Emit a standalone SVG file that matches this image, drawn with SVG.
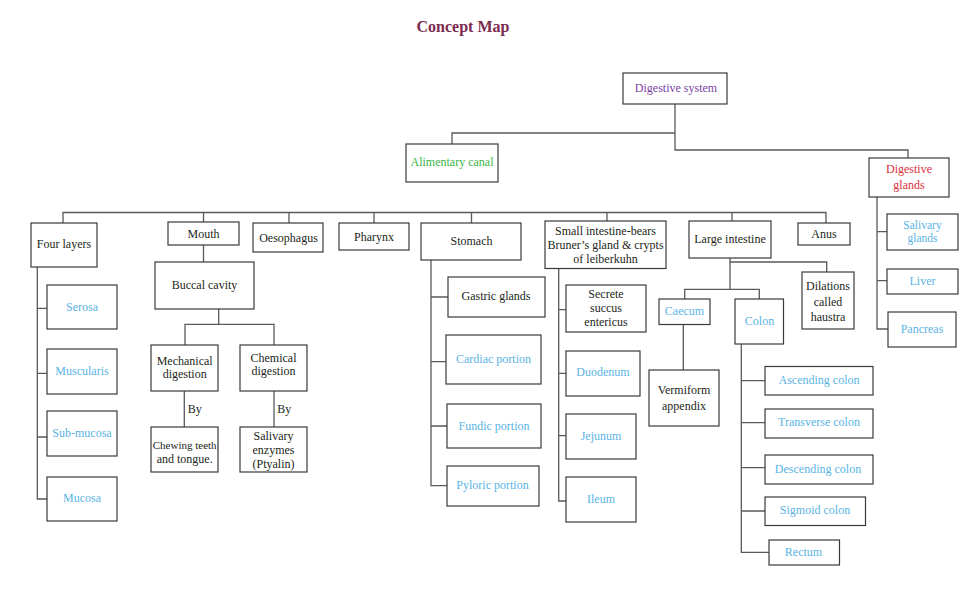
<svg xmlns="http://www.w3.org/2000/svg" width="975" height="611" viewBox="0 0 975 611">
<style>
.bx{fill:#fff;stroke:#3a3a3a;stroke-width:1.2}
.t{font-family:"Liberation Serif","Times New Roman",serif;font-size:12px;fill:#231f20;text-anchor:middle}
.b{fill:#5ab4e5}
.c{fill:none;stroke:#5a5a5a;stroke-width:1.3}
.title{font-family:"Liberation Serif","Times New Roman",serif;font-size:16px;font-weight:bold;fill:#7b2a50;text-anchor:middle}
</style>
<rect width="975" height="611" fill="#fff"/>
<text class="title" x="463" y="32">Concept Map</text>

<g id="connectors" class="c">
<path d="M675,104 V150 H908 V158"/>
<path d="M452,144 V133 H675"/>
<path d="M63,223 V212.5 H826 V223"/>
<path d="M203.5,212.5 V222"/>
<path d="M289,212.5 V223"/>
<path d="M374,212.5 V223"/>
<path d="M471.5,212.5 V223"/>
<path d="M607,212.5 V221"/>
<path d="M732,212.5 V221"/>
<path d="M203.5,245 V262"/>
<path d="M218.7,309 V324.3"/>
<path d="M185,345 V324.3 H274 V345"/>
<path d="M184.3,391 V427"/>
<path d="M274,391 V427"/>
<path d="M37.3,267 V499 H47"/>
<path d="M37.3,308.3 H47 M37.3,373.3 H47 M37.3,437 H47"/>
<path d="M431,260 V485.7 H447"/>
<path d="M431,297 H448 M431,361.7 H446 M431,426 H447"/>
<path d="M558.7,268.7 V501 H566"/>
<path d="M558.7,309.7 H566 M558.7,373.3 H566 M558.7,435.7 H566"/>
<path d="M730,258 V289.3"/>
<path d="M730,262 H826.7 V272"/>
<path d="M684.7,299.3 V289.3 H759.3 V299.3"/>
<path d="M683.3,324.7 V370.3"/>
<path d="M741.3,344.3 V552.3 H769"/>
<path d="M741.3,380.7 H765 M741.3,422.7 H765 M741.3,467.7 H765 M741.3,511 H765"/>
<path d="M877,197 V329 H888"/>
<path d="M877,231.7 H887 M877,280.7 H887"/>
</g>
<text class="t" x="187.7" y="413" style="text-anchor:start">By</text>
<text class="t" x="277.3" y="413" style="text-anchor:start">By</text>

<g id="digestive-system"><rect class="bx" x="623" y="73" width="104" height="31"/><text class="t" x="676" y="92" style="fill:#7b3fa5">Digestive system</text></g>
<g id="alimentary-canal"><rect class="bx" x="406" y="144" width="92" height="38"/><text class="t" x="452" y="166" style="fill:#3cb54a">Alimentary canal</text></g>
<g id="digestive-glands"><rect class="bx" x="869" y="158" width="80" height="39"/><text class="t" x="909" y="173" style="fill:#d9303a">Digestive</text><text class="t" x="909" y="189" style="fill:#d9303a">glands</text></g>

<g id="four-layers"><rect class="bx" x="31" y="223" width="66" height="44"/><text class="t" x="64" y="248">Four layers</text></g>
<g id="mouth"><rect class="bx" x="168" y="222" width="71" height="23"/><text class="t" x="203.5" y="238">Mouth</text></g>
<g id="oesophagus"><rect class="bx" x="253" y="223" width="70" height="29"/><text class="t" x="288.5" y="241.5">Oesophagus</text></g>
<g id="pharynx"><rect class="bx" x="339" y="223" width="70" height="27"/><text class="t" x="374" y="240.5">Pharynx</text></g>
<g id="stomach"><rect class="bx" x="421" y="223" width="100" height="37"/><text class="t" x="471.5" y="245">Stomach</text></g>
<g id="small-intestine"><rect class="bx" x="545" y="221" width="121" height="47.5"/><text class="t" x="605.5" y="234.7">Small intestine-bears</text><text class="t" x="605.5" y="248.7">Bruner’s gland &amp; crypts</text><text class="t" x="605.5" y="263.3">of leiberkuhn</text></g>
<g id="large-intestine"><rect class="bx" x="689" y="221" width="82" height="37"/><text class="t" x="730" y="243">Large intestine</text></g>
<g id="anus"><rect class="bx" x="798" y="223" width="52" height="22"/><text class="t" x="824" y="237.5">Anus</text></g>

<g id="buccal-cavity"><rect class="bx" x="155" y="262" width="99" height="47"/><text class="t" x="204.5" y="289">Buccal cavity</text></g>
<g id="mechanical-digestion"><rect class="bx" x="151" y="345" width="67" height="46"/><text class="t" x="184.7" y="365">Mechanical</text><text class="t" x="184.7" y="378">digestion</text></g>
<g id="chemical-digestion"><rect class="bx" x="240" y="345" width="67" height="46"/><text class="t" x="273.5" y="361.7">Chemical</text><text class="t" x="273.5" y="375">digestion</text></g>
<g id="chewing"><rect class="bx" x="151" y="427" width="67" height="45"/><text class="t" x="184.7" y="449" style="font-size:11px">Chewing teeth</text><text class="t" x="184.7" y="463">and tongue.</text></g>
<g id="salivary-enzymes"><rect class="bx" x="240" y="427" width="67" height="45"/><text class="t" x="273.5" y="440">Salivary</text><text class="t" x="273.5" y="454.3">enzymes</text><text class="t" x="273.5" y="468">(Ptyalin)</text></g>

<g id="serosa"><rect class="bx" x="47" y="285" width="70" height="44"/><text class="t b" x="82" y="311">Serosa</text></g>
<g id="muscularis"><rect class="bx" x="47" y="349" width="70" height="45"/><text class="t b" x="82" y="375">Muscularis</text></g>
<g id="sub-mucosa"><rect class="bx" x="47" y="411" width="70" height="45"/><text class="t b" x="82" y="437">Sub-mucosa</text></g>
<g id="mucosa"><rect class="bx" x="47" y="477" width="70" height="44"/><text class="t b" x="82" y="502">Mucosa</text></g>

<g id="gastric-glands"><rect class="bx" x="448" y="277" width="97" height="40"/><text class="t" x="496" y="300">Gastric glands</text></g>
<g id="cardiac-portion"><rect class="bx" x="446" y="335" width="95" height="49"/><text class="t b" x="493.5" y="363">Cardiac portion</text></g>
<g id="fundic-portion"><rect class="bx" x="447" y="404" width="94" height="44"/><text class="t b" x="494" y="430">Fundic portion</text></g>
<g id="pyloric-portion"><rect class="bx" x="447" y="466" width="92" height="40"/><text class="t b" x="492.5" y="489.3">Pyloric portion</text></g>

<g id="secrete"><rect class="bx" x="566" y="285" width="80" height="47"/><text class="t" x="606" y="298.3">Secrete</text><text class="t" x="606" y="312.3">succus</text><text class="t" x="606" y="326">entericus</text></g>
<g id="duodenum"><rect class="bx" x="566" y="351" width="74" height="45"/><text class="t b" x="603" y="376">Duodenum</text></g>
<g id="jejunum"><rect class="bx" x="566" y="414" width="70" height="45"/><text class="t b" x="601" y="440">Jejunum</text></g>
<g id="ileum"><rect class="bx" x="566" y="477" width="70" height="45"/><text class="t b" x="601" y="503">Ileum</text></g>

<g id="caecum"><rect class="bx" x="659" y="299" width="51" height="25.5"/><text class="t b" x="684.5" y="315">Caecum</text></g>
<g id="colon"><rect class="bx" x="735" y="299" width="48.5" height="45"/><text class="t b" x="759.5" y="325">Colon</text></g>
<g id="dilations"><rect class="bx" x="802" y="272" width="52" height="57"/><text class="t" x="828" y="290">Dilations</text><text class="t" x="828" y="305.7">called</text><text class="t" x="828" y="320.7">haustra</text></g>
<g id="vermiform"><rect class="bx" x="649" y="370" width="70" height="56"/><text class="t" x="684" y="394">Vermiform</text><text class="t" x="684" y="409.7">appendix</text></g>

<g id="ascending-colon"><rect class="bx" x="765" y="366.5" width="108" height="28.5"/><text class="t b" x="819" y="384">Ascending colon</text></g>
<g id="transverse-colon"><rect class="bx" x="765" y="409" width="108" height="29"/><text class="t b" x="819" y="426">Transverse colon</text></g>
<g id="descending-colon"><rect class="bx" x="765" y="455" width="108" height="29"/><text class="t b" x="818" y="473">Descending colon</text></g>
<g id="sigmoid-colon"><rect class="bx" x="765" y="497" width="100.5" height="28.5"/><text class="t b" x="815" y="514">Sigmoid colon</text></g>
<g id="rectum"><rect class="bx" x="769" y="540" width="70.5" height="25"/><text class="t b" x="803.5" y="556">Rectum</text></g>

<g id="salivary-glands"><rect class="bx" x="887" y="214" width="71" height="36"/><text class="t b" x="922.5" y="228.5" style="font-size:11.5px">Salivary</text><text class="t b" x="922.5" y="241.5" style="font-size:11.5px">glands</text></g>
<g id="liver"><rect class="bx" x="887" y="269" width="71" height="25"/><text class="t b" x="922.5" y="284.7">Liver</text></g>
<g id="pancreas"><rect class="bx" x="888" y="312" width="68" height="35"/><text class="t b" x="922" y="333">Pancreas</text></g>
</svg>
